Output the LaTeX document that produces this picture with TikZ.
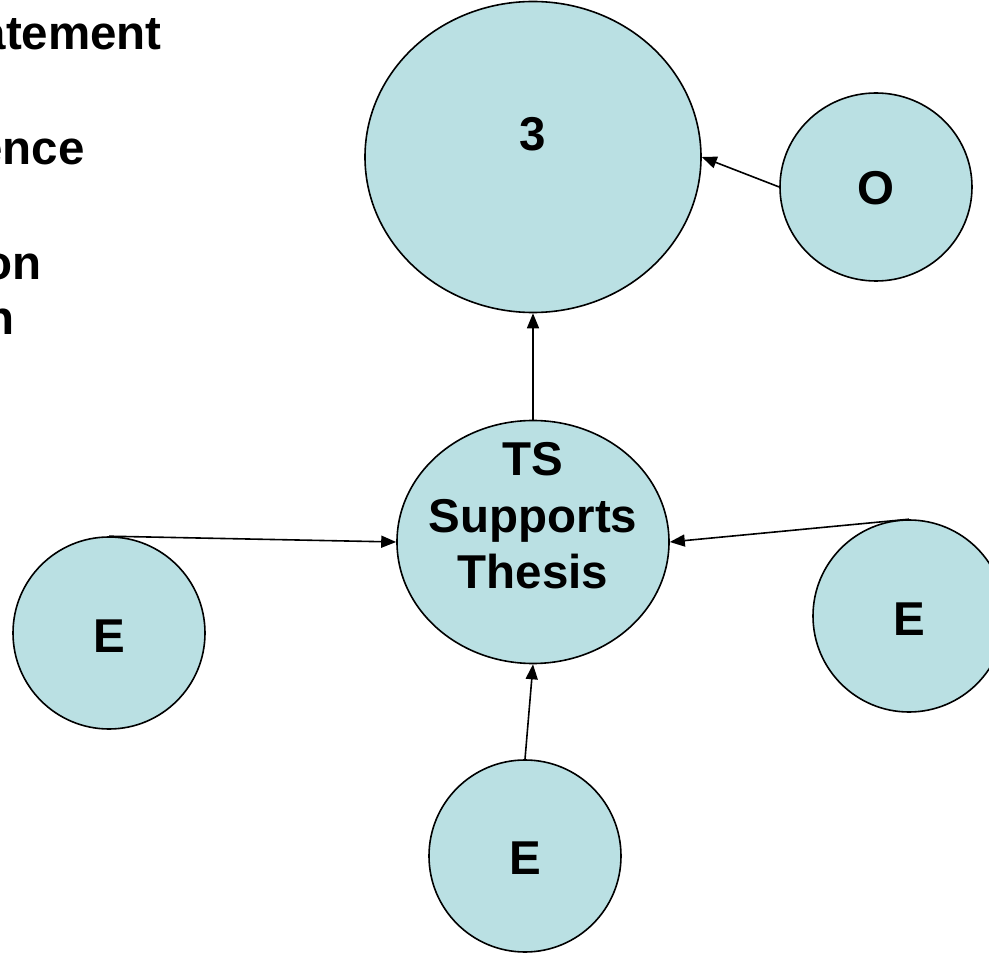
\documentclass[tikz,border=0pt]{standalone}
\usepackage{fontspec}
\setmainfont{Liberation Sans}
\usetikzlibrary{shapes.geometric,arrows.meta}
\definecolor{bubble}{RGB}{186,224,227}
\begin{document}
\begin{tikzpicture}[x=1pt,y=-1pt,
  bub/.style={ellipse,draw=black,line width=1.6pt,fill=bubble,inner sep=0pt},
  txt/.style={font=\fontsize{47.5}{56.5}\selectfont\bfseries,inner sep=0pt,align=center},
  arr/.style={line width=1.6pt,-{Triangle[length=15pt,width=12pt]}}]
\useasboundingbox (0,0) rectangle (989,957);
% left-hand cropped list
\node[txt,anchor=base east] (l1) at (162,50) {atement};
\node[txt,anchor=base east] (l2) at (85,165) {ence};
\node[txt,anchor=base east] (l3) at (42,280) {on};
\node[txt,anchor=base east] (l4) at (15,335) {n};
% bubbles
\node[bub,minimum width=336pt,minimum height=311pt] (big) at (533,157) {};
\node[txt] (bigt) at (533,134) {3};
\node[bub,minimum width=192pt,minimum height=188pt] (o) at (876,187) {};
\node[txt] (ot) at (876,188) {O};
\node[bub,minimum width=272pt,minimum height=243pt] (ts) at (533,542) {};
\node[txt] (tst) at (533,516) {TS\\Supports\\Thesis};
\node[bub,minimum width=192pt,minimum height=192pt] (el) at (109,633) {};
\node[txt] (elt) at (109,636) {E};
\node[bub,minimum width=192pt,minimum height=192pt] (er) at (909,616) {};
\node[txt] (ert) at (909,619) {E};
\node[bub,minimum width=192pt,minimum height=192pt] (eb) at (525,856) {};
\node[txt] (ebt) at (525,858) {E};
% connectors
\draw[arr] (ts.north) -- (big.south);
\draw[arr] (o.west) -- (big.east);
\draw[arr] (el.north) -- (ts.west);
\draw[arr] (er.north) -- (ts.east);
\draw[arr] (eb.north) -- (ts.south);
\end{tikzpicture}
\end{document}
